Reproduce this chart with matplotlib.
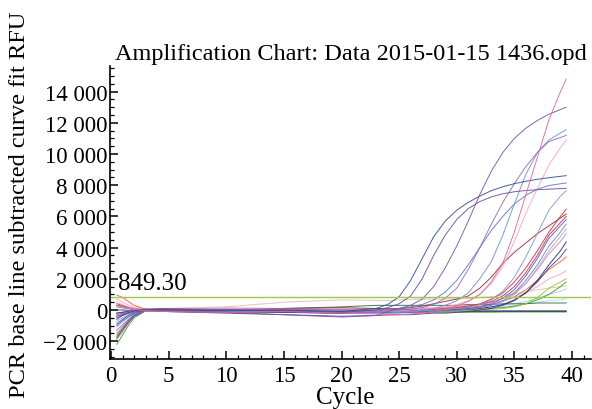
import matplotlib
matplotlib.use("Agg")
import matplotlib.pyplot as plt
from matplotlib.ticker import MultipleLocator, FuncFormatter

plt.rcParams['font.family'] = ['Liberation Serif', 'DejaVu Serif']

# ---------------- data ----------------
cycles = [0.5, 1, 1.5, 2, 3, 5, 10, 15, 20, 23, 24,
          25, 26, 27, 28, 29, 30, 31, 32, 33, 34, 35, 36, 37, 38, 39, 39.5]

threshold = 849.30

curve_F = [-600, -350, -180, -60, 50, 0, -50, 0, -100, 100, 350,
           850, 1900, 3300, 4700, 5700, 6400, 6900, 7300, 7650, 7900, 8100, 8250, 8380, 8480, 8570, 8610]
curve_H = [-900, -600, -350, -150, 0, 50, 0, -50, -150, 0, 150,
           400, 900, 2000, 3500, 4800, 5800, 6500, 6950, 7250, 7450, 7580, 7660, 7710, 7750, 7780, 7800]
curve_B = [-1700, -1200, -700, -350, 0, -100, -150, -300, -450, -350, -100,
           100, 300, 700, 1500, 2700, 4100, 5700, 7400, 8900, 10100, 11000, 11650, 12150, 12550, 12850, 13000]
curve_D = [-400, -250, -120, -40, 50, 0, 0, 50, 0, -50, 0,
           0, 50, 150, 350, 750, 1400, 2600, 4000, 5500, 6900, 8100, 9200, 10100, 10800, 11050, 11200]
curve_C = [200, 130, 80, 40, -50, 0, -100, -50, -150, -150, -200,
           -150, -100, 0, 100, 300, 600, 1100, 2000, 3100, 4800, 6800, 8700, 10100, 10900, 11350, 11560]
curve_A = [300, 200, 120, 60, -50, -100, -150, -100, -200, -250, -300,
           -300, -250, -200, -100, 50, 250, 550, 1000, 1800, 3000, 5000, 7400, 9800, 12200, 14000, 14800]
curve_E = [500, 350, 200, 100, 0, 50, 100, 50, 0, 0, -50,
           -50, 0, 50, 100, 200, 350, 600, 1000, 1700, 2800, 4400, 6200, 7800, 9300, 10400, 10900]
curve_G = [-300, -220, -150, -80, 0, 50, 50, 0, -50, 0, 50,
           100, 200, 350, 650, 1150, 1900, 2900, 4000, 5100, 6000, 6800, 7350, 7750, 7980, 8090, 8140]
curve_I = [-500, -350, -200, -100, 0, 50, 0, -50, -100, -100, -100,
           -100, -100, -50, 0, 50, 100, 200, 350, 650, 1200, 2100, 3400, 4900, 6400, 7300, 7650]
curve_J = [400, 280, 160, 70, -30, 20, 0, -50, 0, -50, -30,
           0, 0, 50, 50, 100, 150, 250, 400, 700, 1100, 1800, 2700, 3800, 5000, 6000, 6470]
curve_K = [-200, -140, -80, -30, 30, 100, 50, 100, 150, 100, 80,
           100, 150, 250, 400, 550, 700, 900, 1400, 2100, 3000, 3700, 4300, 4900, 5400, 5900, 6150]
curve_L = [-500, -350, -200, -100, 0, 50, -50, 0, -100, -150, -120,
           -100, -50, 0, 0, 50, 100, 200, 350, 550, 900, 1500, 2400, 3500, 4800, 5600, 6000]
curve_M = [-1000, -700, -450, -220, 0, 0, 50, -50, -100, -150, -150,
           -150, -150, -100, -50, 0, 50, 100, 200, 400, 750, 1300, 2200, 3300, 4600, 5400, 5800]
curve_N = [-1300, -950, -600, -300, -50, 0, -50, -100, -150, -200, -200,
           -200, -150, -150, -100, -50, 0, 50, 150, 300, 600, 1100, 1900, 2900, 4100, 5000, 5500]
curve_O = [-700, -500, -300, -130, 0, 50, 100, 50, 0, -50, -80,
           -100, -100, -50, -50, 0, 50, 100, 150, 300, 550, 1000, 1700, 2700, 3800, 4700, 5200]
curve_P = [-1500, -1050, -650, -300, -50, 0, -50, -100, -50, 0, 0,
           0, 0, 50, 100, 150, 200, 250, 350, 500, 750, 1100, 1700, 2600, 3600, 4400, 4900]
curve_Q = [-200, -150, -100, -50, -50, 0, -100, -150, -200, -100, -80,
           -50, -50, -50, 0, 0, 0, 50, 100, 200, 350, 650, 1100, 1900, 2900, 3800, 4360]
curve_R = [-1800, -1300, -800, -400, -50, -100, -200, -300, -400, -350, -320,
           -300, -300, -250, -200, -200, -150, -100, 0, 100, 300, 600, 1100, 1800, 2700, 3400, 3900]
curve_S = [960, 800, 550, 300, 50, 0, -50, 0, 50, 0, 0,
           0, 0, 50, 50, 100, 100, 150, 250, 350, 550, 850, 1300, 1900, 2600, 3100, 3400]
curve_T = [700, 500, 320, 180, 50, 100, 150, 100, 50, 100, 100,
           100, 100, 150, 150, 200, 250, 300, 350, 450, 600, 800, 1100, 1500, 2000, 2300, 2520]
curve_U = [200, 150, 100, 50, 0, 100, 200, 500, 650, 620, 600,
           650, 680, 700, 700, 700, 720, 750, 800, 850, 950, 1050, 1150, 1300, 1400, 1500, 1550]
curve_V = [-2200, -1600, -1000, -500, -50, 0, -50, -100, -100, -100, -100,
           -100, -100, -100, -50, -50, 0, 0, 50, 100, 150, 250, 400, 650, 1000, 1500, 1800]
curve_W = [-1900, -1400, -850, -400, -50, -100, -150, -150, -150, -150, -150,
           -150, -150, -150, -100, -100, -100, -50, 0, 50, 100, 200, 400, 800, 1400, 1800, 2000]
curve_X = [-1100, -800, -450, -200, 0, 50, 0, 0, 0, 0, 0,
           0, 0, 0, 0, 50, 50, 100, 150, 200, 300, 400, 550, 750, 1000, 1200, 1350]
curve_Y = [-800, -600, -350, -150, 0, 0, 50, 0, 0, 0, 0,
           0, 0, 0, 0, 0, 50, 50, 100, 150, 200, 300, 400, 500, 600, 650, 700]
curve_Z = [300, 250, 180, 100, 50, 100, 50, 100, 200, 300, 300,
           300, 300, 300, 300, 300, 300, 350, 350, 350, 400, 400, 400, 450, 450, 450, 450]
curve_AA = [-400, -300, -200, -100, 0, -50, -100, -50, -100, -100, -100,
            -100, -100, -100, -100, -100, -100, -50, -50, -50, -50, -50, -50, -50, -50, -50, -50]
curve_AB = [-1600, -1150, -700, -300, 0, 0, -50, -100, -150, -150, -150,
            -150, -150, -150, -150, -150, -150, -150, -150, -150, -130, -130, -130, -130, -130, -130, -130]
curve_AC = [0, 0, -20, 0, 0, -50, -100, -150, -200, -150, -120,
            -100, -100, -100, -100, -100, -100, -100, -100, -100, -100, -100, -100, -100, -100, -100, -100]

colors = {
    'F': '#2d4f9e', 'H': '#6b4c9a', 'B': '#7d52a8', 'D': '#8e6cc0', 'C': '#6f8fdc',
    'A': '#e8649c', 'E': '#f2a8bc', 'G': '#5a7ad0', 'I': '#7f98dc', 'J': '#e02838',
    'K': '#9c2a3a', 'L': '#d02a6a', 'M': '#4468c4', 'N': '#8a78c8', 'O': '#98b0e4',
    'P': '#e88098', 'Q': '#1e2e7e', 'R': '#5a3a7a', 'S': '#f0642e', 'T': '#f4a8b4',
    'U': '#d8c4b0', 'V': '#3c9a3c', 'W': '#8cc83c', 'X': '#a8cce8', 'Y': '#b8d8f0',
    'Z': '#2e6a3a', 'AA': '#3a3a58', 'AB': '#5cbc3c', 'AC': '#28387a',
}

series = [
    ('U', curve_U), ('Y', curve_Y), ('X', curve_X), ('Z', curve_Z), ('AA', curve_AA),
    ('AB', curve_AB), ('AC', curve_AC), ('V', curve_V), ('W', curve_W), ('T', curve_T),
    ('S', curve_S), ('R', curve_R), ('Q', curve_Q), ('P', curve_P), ('O', curve_O),
    ('N', curve_N), ('M', curve_M), ('L', curve_L), ('K', curve_K), ('J', curve_J),
    ('I', curve_I), ('G', curve_G), ('E', curve_E), ('C', curve_C), ('D', curve_D),
    ('H', curve_H), ('F', curve_F), ('B', curve_B), ('A', curve_A),
]

# ---------------- figure ----------------
fig = plt.figure(figsize=(5.92, 4.10), dpi=100)
ax = fig.add_axes([110 / 592, 50 / 410, 481 / 592, 293 / 410])

for key, vals in series:
    ax.plot(cycles, vals, color=colors[key], lw=0.7, alpha=0.9)

ax.axhline(threshold, color='#9cc84c', lw=1.0)
ax.text(0.6, threshold + 200, f"{threshold:.2f}", fontsize=18, ha='left', va='bottom')

ax.set_xlim(-0.09, 41.65)
ax.set_ylim(-3140, 15640)

ax.xaxis.set_major_locator(MultipleLocator(5))
ax.xaxis.set_minor_locator(MultipleLocator(1))
ax.yaxis.set_major_locator(MultipleLocator(2000))
ax.yaxis.set_minor_locator(MultipleLocator(500))


def fmt(v, pos):
    v = int(round(v))
    s = f"{abs(v):,}".replace(",", " ")
    return ("\u2212" + s) if v < 0 else s


ax.yaxis.set_major_formatter(FuncFormatter(fmt))

for side in ('top', 'right'):
    ax.spines[side].set_visible(False)
for side in ('left', 'bottom'):
    ax.spines[side].set_linewidth(1.2)

ax.tick_params(axis='both', which='major', direction='in', length=6, width=1.1,
               labelsize=16.5, pad=2)
ax.tick_params(axis='x', which='major', pad=4)
ax.tick_params(axis='both', which='minor', direction='in', length=3, width=0.9)

ax.set_title("Amplification Chart: Data 2015-01-15 1436.opd", fontsize=17.5, pad=5)
ax.set_xlabel("Cycle", fontsize=18)
ax.xaxis.set_label_coords(0.49, -0.093)
ax.set_ylabel("PCR base line subtracted curve fit RFU", fontsize=17.6)
ax.yaxis.set_label_coords(-0.166, 0.529)

fig.savefig("out.png", dpi=100, facecolor='white')
